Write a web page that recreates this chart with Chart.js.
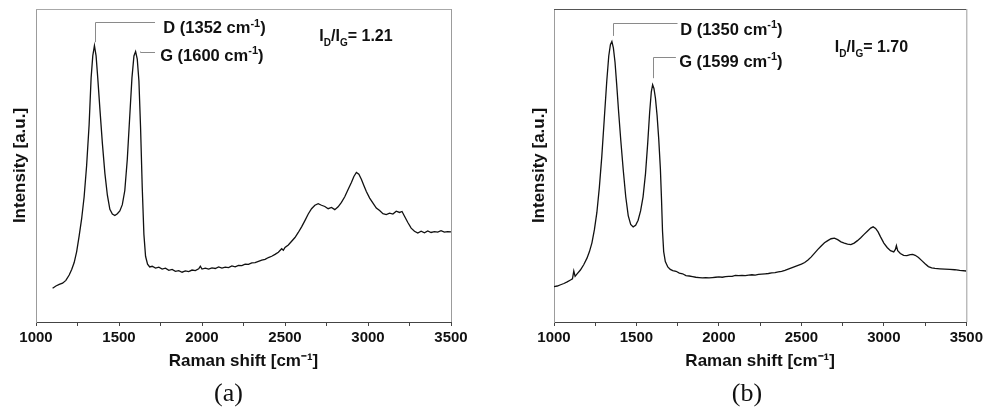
<!DOCTYPE html>
<html>
<head>
<meta charset="utf-8">
<script src="https://cdn.jsdelivr.net/npm/chart.js@4.4.1/dist/chart.umd.min.js"></script>
<style>
  html, body { margin: 0; padding: 0; background: #fff; }
  #wrap { display: flex; width: 986px; height: 410px; }
  canvas { display: block; }
</style>
</head>
<body>
<div id="wrap">
  <canvas id="chartA" width="493" height="410"></canvas>
  <canvas id="chartB" width="493" height="410"></canvas>
</div>
<script>
// Raman spectrum (a)
const ramanA = [1100,1120,1140,1160,1180,1200,1215,1230,1245,1260,1275,1290,1305,1320,1332,1342,1352,1362,1372,1385,
  1400,1415,1430,1445,1460,1475,1490,1505,1520,1535,1550,1565,1578,1590,1600,1610,1620,1630,1640,1650,
  1660,1672,1685,1700,1720,1740,1760,1780,1800,1820,1840,1860,1880,1900,1920,1940,1960,1980,1990,2000,
  2020,2040,2060,2080,2100,2120,2140,2160,2180,2200,2220,2240,2260,2280,2300,2320,2340,2360,2380,2400,
  2420,2440,2460,2480,2490,2500,2520,2540,2560,2580,2600,2620,2640,2660,2680,2700,2720,2740,2760,2780,
  2800,2820,2840,2860,2880,2900,2915,2930,2945,2960,2975,2990,3010,3030,3050,3070,3090,3110,3130,3150,
  3170,3190,3205,3220,3240,3260,3280,3300,3320,3340,3360,3380,3400,3420,3440,3460,3480,3500];
const intensityA = [10.8,11.5,12.0,12.4,13.3,15.0,16.8,19.0,22.5,27.5,33,40,50,63,78,85,88.3,85,78,68,
  57,47.5,40.5,36,34.5,34,34.6,35.5,37.5,42,52,66,78,85,86.4,84,77,62,43,28,
  21,18.5,17.6,17.8,17.2,17.5,16.9,17.2,16.5,16.8,16.2,16.4,15.9,16.3,16.1,16.6,16.4,17.0,17.8,16.9,
  17.2,16.9,17.3,17.1,17.6,17.2,17.5,17.4,17.9,17.6,18.1,18.0,18.5,18.4,18.9,19.0,19.4,19.8,20.0,20.6,
  21.0,21.6,22.3,23.4,22.9,23.8,24.6,25.8,27.0,28.6,30.4,32.4,34.5,36.2,37.3,37.8,37.3,36.9,36.2,36.6,
  35.9,36.8,38.2,40.0,42.3,44.6,46.5,47.8,47.2,45.6,43.6,41.7,39.6,38.0,36.4,35.6,34.6,34.3,34.8,34.5,
  35.4,35.0,35.3,33.8,31.8,30.0,29.0,28.4,29.0,28.5,29.1,28.6,28.9,28.7,29.2,28.7,28.9,28.8];

// Raman spectrum (b)
const ramanB = [1000,1020,1040,1060,1080,1100,1112,1120,1128,1140,1160,1180,1200,1215,1230,1245,1260,1275,1290,1305,
  1320,1332,1342,1351,1360,1370,1380,1392,1405,1420,1435,1450,1465,1480,1495,1510,1525,1540,1555,1568,
  1580,1590,1598,1606,1615,1625,1635,1645,1652,1658,1665,1675,1690,1705,1720,1740,1760,1780,1800,1820,
  1840,1860,1880,1900,1920,1940,1960,1980,2000,2020,2040,2060,2080,2100,2120,2140,2160,2180,2200,2220,
  2240,2260,2280,2300,2320,2340,2360,2380,2400,2420,2440,2460,2480,2500,2520,2540,2560,2580,2600,2620,
  2640,2660,2680,2700,2720,2740,2760,2780,2800,2820,2840,2860,2880,2900,2920,2935,2950,2965,2980,3000,
  3020,3040,3060,3070,3076,3084,3100,3120,3140,3160,3175,3190,3210,3230,3250,3270,3290,3310,3340,3370,
  3400,3430,3460,3500];
const intensityB = [11.3,11.5,11.9,12.3,12.8,13.4,13.8,16.3,14.6,15.4,16.6,18.3,20.4,22.5,25.3,29.5,35,43,53,65,
  77,85,88.6,89.6,87.6,83,76,67,58,48.5,40,34,31.2,30.4,30.9,32.5,35.5,40,47.5,57,
  67,73.5,75.8,74.6,71.5,66,58.5,49,39,29,22.5,19.3,17.6,16.8,16.4,16.2,15.6,15.4,14.8,14.7,
  14.5,14.3,14.2,14.1,14.2,14.1,14.2,14.3,14.4,14.3,14.5,14.6,14.6,14.9,14.8,14.9,14.8,15.0,15.1,15.0,
  15.2,15.3,15.4,15.5,15.7,15.8,16.0,16.2,16.5,16.9,17.3,17.7,18.1,18.5,19.0,19.8,20.8,22.0,23.2,24.3,
  25.3,26.0,26.6,26.8,26.3,25.6,25.2,24.9,24.7,25.2,26.0,26.9,28.0,29.0,30.0,30.4,29.9,28.8,27.2,25.2,
  23.8,22.8,22.4,23.2,24.4,22.8,21.9,21.3,21.2,21.5,21.6,21.3,20.6,19.6,18.6,17.7,17.3,17.1,17.0,16.9,
  16.8,16.7,16.5,16.3];

// peak labels and intensity ratio
const peakNames = ['D', 'G'];
const peakPosA = [1352, 1600];
const peakPosB = [1350, 1599];
const ratioA = '1.21';
const ratioB = '1.70';
const xTicks = [1000, 1500, 2000, 2500, 3000, 3500];

const FONT = '"Liberation Sans", Arial, Helvetica, sans-serif';

// leader-line geometry in data units: stem x, stem from/to (y), arm end x, label x, label baseline y
const leadersA = [
  { x: 1354, from: 89.4, to: 96.0, armTo: 1717, labelX: 1767, labelY: 92.3 },
  { x: 1625, from: 86.4, to: 86.4, armTo: 1717, labelX: 1748, labelY: 83.4 }
];
const leadersB = [
  { x: 1356, from: 91.4, to: 95.4, armTo: 1749, labelX: 1765, labelY: 91.7 },
  { x: 1598, from: 77.9, to: 84.8, armTo: 1739, labelX: 1759, labelY: 81.5 }
];

function drawParts(ctx, parts, x, y) {
  let cx = x;
  parts.forEach(p => {
    ctx.font = 'bold ' + p.size + 'px ' + FONT;
    ctx.fillText(p.text, cx, y + (p.shift || 0));
    cx += ctx.measureText(p.text).width;
  });
}

const peakNotes = {
  id: 'peakNotes',
  afterDatasetsDraw(chart, args, opts) {
    const { ctx, chartArea: a, scales: { x, y } } = chart;
    ctx.save();
    // top and right frame lines
    ctx.lineWidth = 1;
    ctx.strokeStyle = opts.topColor;
    ctx.beginPath();
    ctx.moveTo(a.left, a.top + 0.5);
    ctx.lineTo(a.right, a.top + 0.5);
    ctx.stroke();
    ctx.strokeStyle = '#9c9c9c';
    ctx.beginPath();
    ctx.moveTo(a.right + 0.5, a.top);
    ctx.lineTo(a.right + 0.5, a.bottom);
    ctx.stroke();

    // leader lines + peak labels
    ctx.fillStyle = '#111';
    ctx.textBaseline = 'alphabetic';
    opts.leaders.forEach((l, i) => {
      ctx.strokeStyle = '#8a8a8a';
      ctx.beginPath();
      const px = Math.round(x.getPixelForValue(l.x)) + 0.5;
      const py = Math.round(y.getPixelForValue(l.to)) + 0.5;
      ctx.moveTo(px, y.getPixelForValue(l.from));
      ctx.lineTo(px, py);
      ctx.lineTo(x.getPixelForValue(l.armTo), py);
      ctx.stroke();
      drawParts(ctx, [
        { text: opts.names[i] + ' (' + opts.positions[i] + ' cm', size: 16.5 },
        { text: '-1', size: 11, shift: -6.5 },
        { text: ')', size: 16.5 }
      ], x.getPixelForValue(l.labelX), y.getPixelForValue(l.labelY));
    });

    // I_D/I_G ratio
    drawParts(ctx, [
      { text: 'I', size: 16 },
      { text: 'D', size: 10, shift: 5 },
      { text: '/I', size: 16 },
      { text: 'G', size: 10, shift: 5 },
      { text: '= ' + opts.ratio, size: 16 }
    ], x.getPixelForValue(opts.ratioX), y.getPixelForValue(opts.ratioY));
    ctx.restore();
  }
};

function makeChart(id, raman, intensity, cfg) {
  return new Chart(document.getElementById(id), {
    type: 'line',
    data: {
      datasets: [{
        data: raman.map((r, i) => ({ x: r, y: intensity[i] })),
        borderColor: '#111',
        borderWidth: 1.3,
        pointRadius: 0,
        tension: 0,
        fill: false
      }]
    },
    options: {
      responsive: false,
      animation: false,
      layout: { padding: { top: 9, right: cfg.padRight, left: cfg.padLeft, bottom: 0 } },
      plugins: {
        legend: { display: false },
        tooltip: { enabled: false },
        title: {
          display: true,
          position: 'bottom',
          text: cfg.letter,
          color: '#111',
          font: { family: '"Liberation Serif", "Times New Roman", serif', size: 26, weight: 'normal' },
          padding: { top: 0, bottom: 0 }
        },
        peakNotes: {
          leaders: cfg.leaders,
          names: peakNames,
          positions: cfg.positions,
          ratio: cfg.ratio,
          ratioX: cfg.ratioX,
          ratioY: cfg.ratioY,
          topColor: cfg.topColor
        }
      },
      scales: {
        x: {
          type: 'linear',
          min: 1000,
          max: 3500,
          ticks: {
            stepSize: 250,
            autoSkip: false,
            maxRotation: 0,
            padding: 3,
            color: '#111',
            font: { family: FONT, size: 15, weight: 'bold' },
            callback: v => xTicks.includes(v) ? String(v) : ''
          },
          grid: { drawOnChartArea: false, drawTicks: true, tickLength: 4, color: '#444' },
          border: { color: '#444', width: 1 },
          title: {
            display: true,
            text: 'Raman shift [cm⁻¹]',
            color: '#111',
            font: { family: FONT, size: 17, weight: 'bold' },
            padding: { top: 0, bottom: 7 }
          },
          afterFit(s) { s.height = 56.8; }
        },
        y: {
          min: 0,
          max: 100,
          ticks: { display: false },
          grid: { display: false },
          border: { display: true, color: '#9c9c9c', width: 1 },
          title: {
            display: true,
            text: 'Intensity [a.u.]',
            color: '#111',
            font: { family: FONT, size: 17, weight: 'bold' },
            padding: { top: 4, bottom: 4 }
          },
          afterFit(s) { s.width = cfg.yWidth; }
        }
      }
    },
    plugins: [peakNotes]
  });
}

makeChart('chartA', ramanA, intensityA, {
  letter: '(a)', padLeft: 6, yWidth: 30, padRight: 42, leaders: leadersA, positions: peakPosA,
  ratio: ratioA, ratioX: 2707, ratioY: 89.9, topColor: '#a8a8a8'
});
makeChart('chartB', ramanB, intensityB, {
  letter: '(b)', padLeft: 32, yWidth: 29, padRight: 17, leaders: leadersB, positions: peakPosB,
  ratio: ratioB, ratioX: 2703, ratioY: 86.3, topColor: '#555'
});
</script>
</body>
</html>
